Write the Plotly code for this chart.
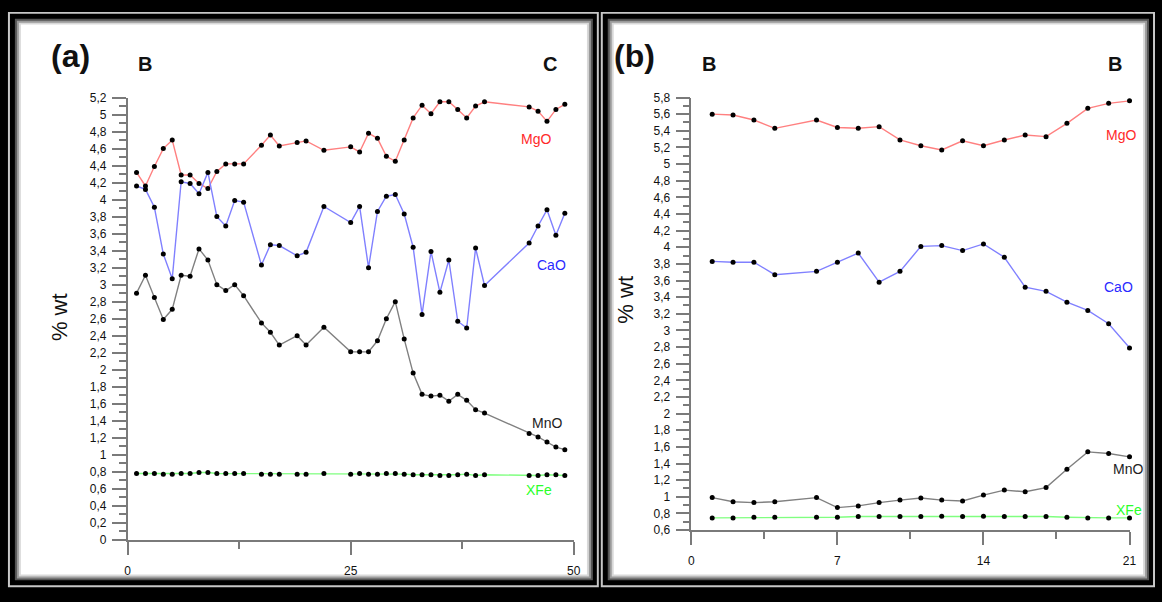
import plotly.graph_objects as go

W, H = 1162, 602

# ---------------- data ----------------
x_a = [1, 2, 3, 4, 5, 6, 7, 8, 9, 10, 11, 12, 13, 15, 16, 17, 19, 20, 22,
       25, 26, 27, 28, 29, 30, 31, 32, 33, 34, 35, 36, 37, 38, 39, 40,
       45, 46, 47, 48, 49]
mgo_a = [4.32, 4.16, 4.39, 4.60, 4.70, 4.29, 4.29, 4.19, 4.13, 4.33, 4.42, 4.42, 4.42,
         4.64, 4.76, 4.63, 4.67, 4.69, 4.58,
         4.62, 4.56, 4.78, 4.72, 4.51, 4.45, 4.70, 4.96, 5.11, 5.01, 5.15, 5.15, 5.06, 4.96, 5.10, 5.15,
         5.09, 5.04, 4.92, 5.06, 5.12]
cao_a = [4.16, 4.12, 3.91, 3.36, 3.07, 4.21, 4.19, 4.07, 4.32, 3.80, 3.69, 3.99, 3.97,
         3.23, 3.47, 3.46, 3.34, 3.38, 3.92,
         3.73, 3.92, 3.20, 3.86, 4.04, 4.06, 3.83, 3.44, 2.65, 3.39, 2.91, 3.29, 2.57, 2.49, 3.43, 2.99,
         3.49, 3.69, 3.88, 3.58, 3.84]
mno_a = [2.90, 3.11, 2.85, 2.59, 2.71, 3.11, 3.10, 3.42, 3.29, 3.00, 2.93, 3.00, 2.87,
         2.55, 2.44, 2.29, 2.40, 2.29, 2.50,
         2.21, 2.21, 2.21, 2.34, 2.60, 2.80, 2.36, 1.96, 1.71, 1.69, 1.70, 1.63, 1.71, 1.64, 1.53, 1.49,
         1.25, 1.21, 1.15, 1.09, 1.06]
xfe_a = [0.78, 0.78, 0.78, 0.772, 0.772, 0.78, 0.78, 0.792, 0.792, 0.78, 0.78, 0.78, 0.78,
         0.772, 0.772, 0.772, 0.772, 0.772, 0.78,
         0.772, 0.78, 0.772, 0.772, 0.78, 0.78, 0.772, 0.765, 0.765, 0.765, 0.757, 0.757, 0.765, 0.772, 0.757, 0.765,
         0.757, 0.757, 0.765, 0.765, 0.757]

x_b = [1, 2, 3, 4, 6, 7, 8, 9, 10, 11, 12, 13, 14, 15, 16, 17, 18, 19, 20, 21]
mgo_b = [5.60, 5.59, 5.53, 5.43, 5.53, 5.44, 5.43, 5.45, 5.29, 5.22,
         5.17, 5.28, 5.22, 5.29, 5.35, 5.33, 5.49, 5.67, 5.73, 5.76]
cao_b = [3.83, 3.82, 3.82, 3.67, 3.71, 3.82, 3.93, 3.58, 3.71, 4.01,
         4.02, 3.96, 4.04, 3.88, 3.52, 3.47, 3.34, 3.24, 3.08, 2.79]
mno_b = [0.99, 0.94, 0.93, 0.94, 0.99, 0.87, 0.89, 0.93, 0.96, 0.985,
         0.96, 0.95, 1.02, 1.08, 1.06, 1.11, 1.33, 1.54, 1.52, 1.48]
xfe_b = [0.746, 0.746, 0.754, 0.754, 0.754, 0.754, 0.762, 0.762, 0.762, 0.762,
         0.766, 0.762, 0.766, 0.762, 0.762, 0.762, 0.754, 0.746, 0.746, 0.746]

series_names = ["MgO", "CaO", "MnO", "XFe"]
line_colors = ["#ff8080", "#8080ff", "#808080", "#80ff80"]
label_colors = ["#ff2a2a", "#2a2aff", "#222222", "#2aff2a"]

xticks_a = [0, 25, 50]
xminor_a = [12.5, 37.5]
xticks_b = [0, 7, 14, 21]
xminor_b = [3.5, 10.5, 17.5]
yticks_a = [round(i * 0.2, 1) for i in range(0, 27)]
yticks_b = [round(0.6 + i * 0.2, 1) for i in range(0, 27)]


def fmt(v):
    s = ("%g" % v)
    return s.replace(".", ",")


def px(x):
    return x / W


def py(y):
    return 1 - y / H


FONT = "Arial, Liberation Sans, sans-serif"

fig = go.Figure()

panel_a = [mgo_a, cao_a, mno_a, xfe_a]
panel_b = [mgo_b, cao_b, mno_b, xfe_b]
for name, col, ys in zip(series_names, line_colors, panel_a):
    fig.add_trace(go.Scatter(x=x_a, y=ys, mode="lines+markers", name=name,
                             line=dict(color=col, width=1.4),
                             marker=dict(color="black", size=5),
                             xaxis="x", yaxis="y", cliponaxis=False, showlegend=False))
for name, col, ys in zip(series_names, line_colors, panel_b):
    fig.add_trace(go.Scatter(x=x_b, y=ys, mode="lines+markers", name=name,
                             line=dict(color=col, width=1.4),
                             marker=dict(color="black", size=5),
                             xaxis="x2", yaxis="y2", cliponaxis=False, showlegend=False))

axcol = "#7a7a7a"
common_x = dict(showline=True, linecolor=axcol, linewidth=1.5, ticks="outside", ticklen=13,
                tickwidth=1.5, tickcolor=axcol, showgrid=False, zeroline=False,
                tickfont=dict(family=FONT, size=12, color="#111"), ticklabelstandoff=6)
common_y = dict(showline=True, linecolor=axcol, linewidth=1.5, ticks="outside", ticklen=14,
                tickwidth=1.5, tickcolor=axcol, showgrid=False, zeroline=False,
                tickfont=dict(family=FONT, size=12, color="#111"), ticklabelstandoff=3)

fig.update_layout(
    width=W, height=H, margin=dict(l=0, r=0, t=0, b=0),
    paper_bgcolor="black", plot_bgcolor="rgba(0,0,0,0)",
    xaxis=dict(domain=[px(125.7), px(575.7)], range=[0, 50], anchor="y",
               tickvals=xticks_a, ticktext=[str(v) for v in xticks_a],
               minor=dict(tickvals=xminor_a, ticklen=7, tickwidth=1.5, tickcolor=axcol, ticks="outside"),
               **common_x),
    yaxis=dict(domain=[py(545.5), py(92.7)], range=[0, 5.2], anchor="x",
               tickvals=yticks_a, ticktext=[fmt(v) for v in yticks_a],
               minor=dict(dtick=0.1, ticklen=7, tickwidth=1.5, tickcolor=axcol, ticks="outside"),
               **common_y),
    xaxis2=dict(domain=[px(694.3), px(1136.3)], range=[0, 21], anchor="y2",
                tickvals=xticks_b, ticktext=[str(v) for v in xticks_b],
                minor=dict(tickvals=xminor_b, ticklen=7, tickwidth=1.5, tickcolor=axcol, ticks="outside"),
                **common_x),
    yaxis2=dict(domain=[py(535.5), py(92.7)], range=[0.6, 5.8], anchor="x2",
                tickvals=yticks_b, ticktext=[fmt(v) for v in yticks_b],
                minor=dict(dtick=0.1, ticklen=7, tickwidth=1.5, tickcolor=axcol, ticks="outside"),
                **common_y),
)

# ---------------- frames ----------------
shapes = []


def rect(x0, y0, x1, y1, color):
    shapes.append(dict(type="rect", xref="paper", yref="paper", layer="below",
                       x0=px(x0), x1=px(x1), y0=py(y1), y1=py(y0),
                       line=dict(width=0), fillcolor=color))


for (x0, x1) in [(5, 601), (603, 1162)]:
    rect(x0, 5, x1, 594, "#c8c8c8")
    rect(x0 + 2, 7, x1 - 2, 592, "#000000")
    rect(x0 + 7, 12, x1 - 6, 587, "#555555")
    rect(x0 + 9, 14, x1 - 8, 585, "#9a9a9a")
    rect(x0 + 11, 16, x1 - 10, 583, "#d8d8d8")
    rect(x0 + 13, 18, x1 - 12, 581, "#ffffff")
fig.update_layout(shapes=shapes)

# ---------------- text ----------------
ann = []


def text(x, y, s, size, color="#111", bold=False, angle=0):
    ann.append(dict(x=px(x), y=py(y), xref="paper", yref="paper", text=("<b>%s</b>" % s) if bold else s,
                    showarrow=False, xanchor="center", yanchor="middle", textangle=angle,
                    font=dict(family=FONT, size=size, color=color)))


text(68, 50, "(a)", 32, bold=True)
text(143, 58, "B", 20, bold=True)
text(552, 58, "C", 20, bold=True)
text(637, 50, "(b)", 32, bold=True)
text(712, 58, "B", 20, bold=True)
text(1122, 58, "B", 20, bold=True)
text(57, 318, "% wt", 22, angle=-90)
text(627, 300, "% wt", 22, angle=-90)

label_pos_a = [(538, 135), (553, 264), (549, 426), (541, 495)]
label_pos_b = [(1128, 131), (1125, 287), (1135, 473), (1136, 515)]
for name, col, (x, y) in zip(series_names, label_colors, label_pos_a):
    text(x, y, name, 14, color=col)
for name, col, (x, y) in zip(series_names, label_colors, label_pos_b):
    text(x, y, name, 14, color=col)

fig.update_layout(annotations=ann)

fig.write_html("out.html", config={"displayModeBar": False},
               post_script="document.body.style.margin='0px';document.body.style.overflow='hidden';")
